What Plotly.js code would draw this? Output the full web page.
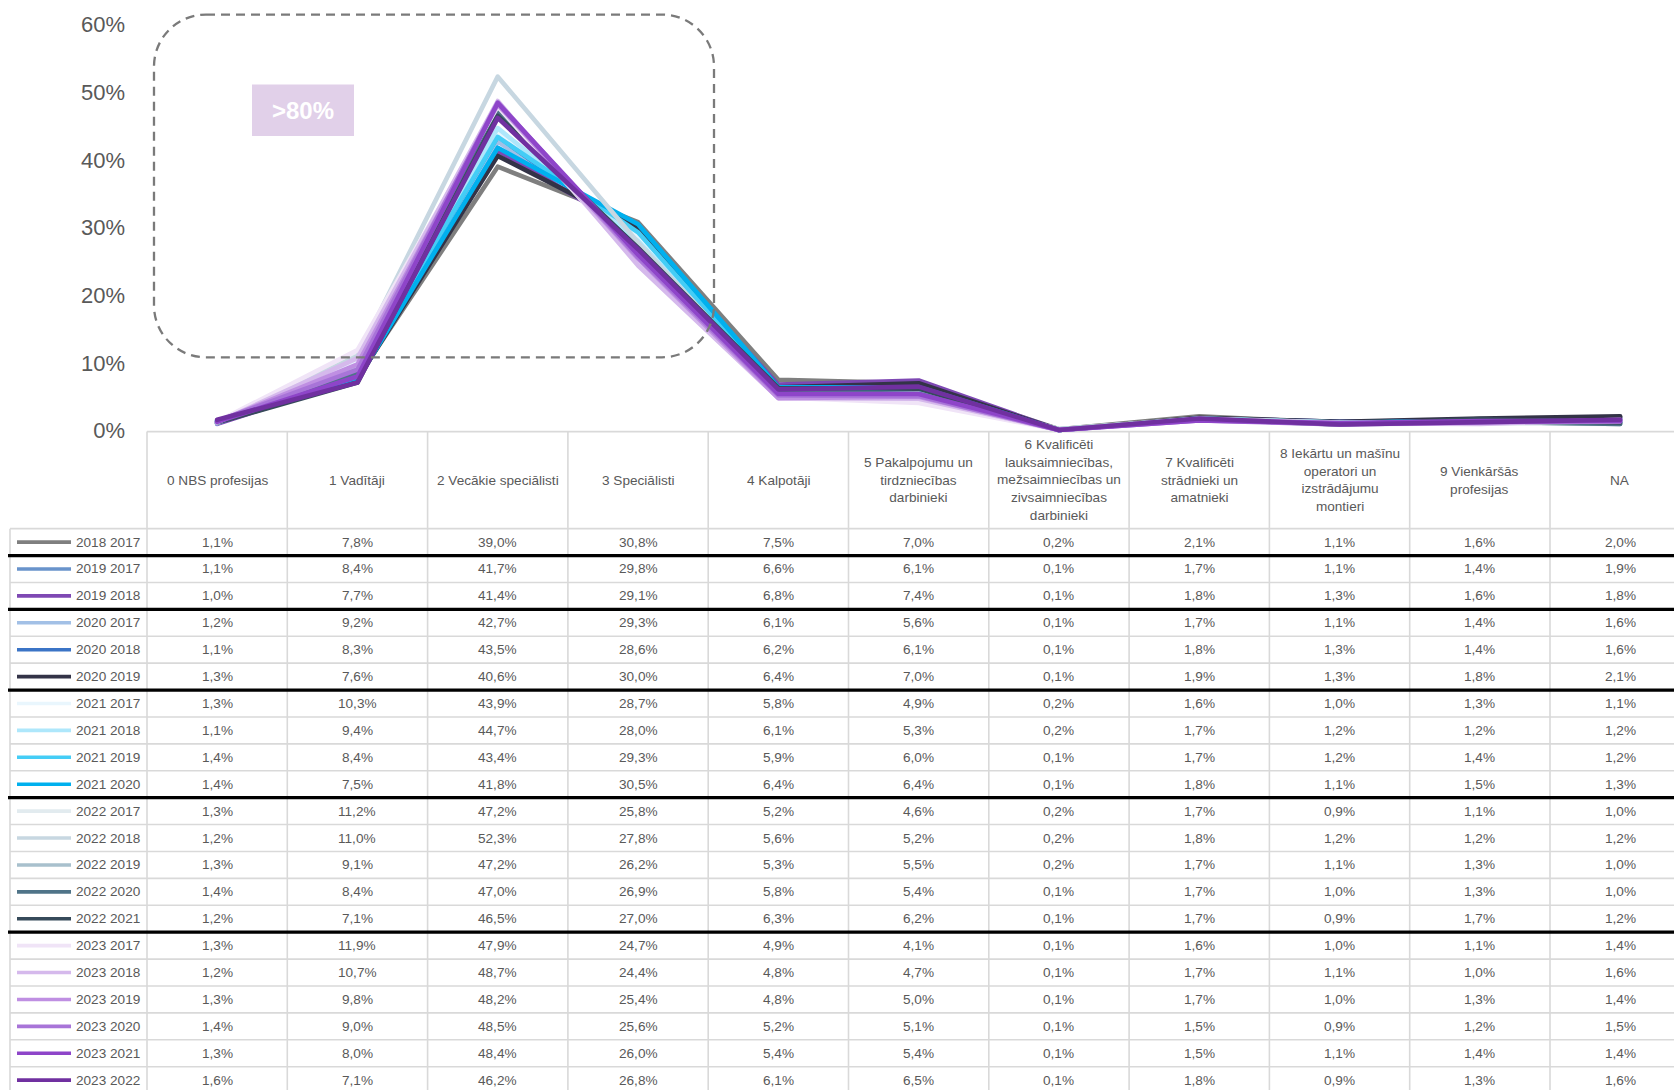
<!DOCTYPE html>
<html>
<head>
<meta charset="utf-8">
<script src="https://cdn.plot.ly/plotly-3.0.1.min.js"></script>
<style>
html,body{margin:0;padding:0;background:#ffffff;}
#chart{width:1674px;height:1090px;}
.scatterlayer .js-line{stroke-linejoin:round;stroke-linecap:round;}
</style>
</head>
<body>
<div id="chart"></div>
<script>
// ---------------- DATA ----------------
const categories = ["0 NBS profesijas", "1 Vadītāji", "2 Vecākie speciālisti", "3 Speciālisti", "4 Kalpotāji",
  "5 Pakalpojumu un tirdzniecības darbinieki",
  "6 Kvalificēti lauksaimniecības, mežsaimniecības un zivsaimniecības darbinieki",
  "7 Kvalificēti strādnieki un amatnieki",
  "8 Iekārtu un mašīnu operatori un izstrādājumu montieri",
  "9 Vienkāršās profesijas", "NA"];

const headerLabels = ["0 NBS profesijas", "1 Vadītāji", "2 Vecākie speciālisti", "3 Speciālisti", "4 Kalpotāji",
  "5 Pakalpojumu un<br>tirdzniecības<br>darbinieki",
  "6 Kvalificēti<br>lauksaimniecības,<br>mežsaimniecības un<br>zivsaimniecības<br>darbinieki",
  "7 Kvalificēti<br>strādnieki un<br>amatnieki",
  "8 Iekārtu un mašīnu<br>operatori un<br>izstrādājumu<br>montieri",
  "9 Vienkāršās<br>profesijas", "NA"];

const seriesNames = ["2018 2017", "2019 2017", "2019 2018", "2020 2017", "2020 2018", "2020 2019",
  "2021 2017", "2021 2018", "2021 2019", "2021 2020",
  "2022 2017", "2022 2018", "2022 2019", "2022 2020", "2022 2021",
  "2023 2017", "2023 2018", "2023 2019", "2023 2020", "2023 2021", "2023 2022"];

// values in percent
const v2018_2017 = [1.1, 7.8, 39.0, 30.8, 7.5, 7.0, 0.2, 2.1, 1.1, 1.6, 2.0];
const v2019_2017 = [1.1, 8.4, 41.7, 29.8, 6.6, 6.1, 0.1, 1.7, 1.1, 1.4, 1.9];
const v2019_2018 = [1.0, 7.7, 41.4, 29.1, 6.8, 7.4, 0.1, 1.8, 1.3, 1.6, 1.8];
const v2020_2017 = [1.2, 9.2, 42.7, 29.3, 6.1, 5.6, 0.1, 1.7, 1.1, 1.4, 1.6];
const v2020_2018 = [1.1, 8.3, 43.5, 28.6, 6.2, 6.1, 0.1, 1.8, 1.3, 1.4, 1.6];
const v2020_2019 = [1.3, 7.6, 40.6, 30.0, 6.4, 7.0, 0.1, 1.9, 1.3, 1.8, 2.1];
const v2021_2017 = [1.3, 10.3, 43.9, 28.7, 5.8, 4.9, 0.2, 1.6, 1.0, 1.3, 1.1];
const v2021_2018 = [1.1, 9.4, 44.7, 28.0, 6.1, 5.3, 0.2, 1.7, 1.2, 1.2, 1.2];
const v2021_2019 = [1.4, 8.4, 43.4, 29.3, 5.9, 6.0, 0.1, 1.7, 1.2, 1.4, 1.2];
const v2021_2020 = [1.4, 7.5, 41.8, 30.5, 6.4, 6.4, 0.1, 1.8, 1.1, 1.5, 1.3];
const v2022_2017 = [1.3, 11.2, 47.2, 25.8, 5.2, 4.6, 0.2, 1.7, 0.9, 1.1, 1.0];
const v2022_2018 = [1.2, 11.0, 52.3, 27.8, 5.6, 5.2, 0.2, 1.8, 1.2, 1.2, 1.2];
const v2022_2019 = [1.3, 9.1, 47.2, 26.2, 5.3, 5.5, 0.2, 1.7, 1.1, 1.3, 1.0];
const v2022_2020 = [1.4, 8.4, 47.0, 26.9, 5.8, 5.4, 0.1, 1.7, 1.0, 1.3, 1.0];
const v2022_2021 = [1.2, 7.1, 46.5, 27.0, 6.3, 6.2, 0.1, 1.7, 0.9, 1.7, 1.2];
const v2023_2017 = [1.3, 11.9, 47.9, 24.7, 4.9, 4.1, 0.1, 1.6, 1.0, 1.1, 1.4];
const v2023_2018 = [1.2, 10.7, 48.7, 24.4, 4.8, 4.7, 0.1, 1.7, 1.1, 1.0, 1.6];
const v2023_2019 = [1.3, 9.8, 48.2, 25.4, 4.8, 5.0, 0.1, 1.7, 1.0, 1.3, 1.4];
const v2023_2020 = [1.4, 9.0, 48.5, 25.6, 5.2, 5.1, 0.1, 1.5, 0.9, 1.2, 1.5];
const v2023_2021 = [1.3, 8.0, 48.4, 26.0, 5.4, 5.4, 0.1, 1.5, 1.1, 1.4, 1.4];
const v2023_2022 = [1.6, 7.1, 46.2, 26.8, 6.1, 6.5, 0.1, 1.8, 0.9, 1.3, 1.6];

const seriesValues = [v2018_2017, v2019_2017, v2019_2018, v2020_2017, v2020_2018, v2020_2019,
  v2021_2017, v2021_2018, v2021_2019, v2021_2020,
  v2022_2017, v2022_2018, v2022_2019, v2022_2020, v2022_2021,
  v2023_2017, v2023_2018, v2023_2019, v2023_2020, v2023_2021, v2023_2022];

const seriesColors = ["#7f7f7f", "#6993cb", "#7e48b3", "#a2c0e6", "#3b74c6", "#333347",
  "#e9f6fd", "#aee7fb", "#44cdf6", "#00b0ee",
  "#e2ebef", "#c7d7e1", "#a8c0cd", "#4f7488", "#364a5a",
  "#f0e4f7", "#d5b9ec", "#bf8fe2", "#a874d8", "#8e45c9", "#7030a0"];

const yTickVals = [0, 0.1, 0.2, 0.3, 0.4, 0.5, 0.6];
const calloutText = ">80%";

// ---------------- GEOMETRY ----------------
const W = 1674, H = 1090;
const colLeft = 147, colW = 140.3;
const yZeroPx = 431, pxPerUnit = 676.7;
const yMin = -0.005, yMax = 0.62;
const plotTop = yZeroPx - yMax * pxPerUnit;
const plotBottom = yZeroPx - yMin * pxPerUnit;
const plotH = plotBottom - plotTop;
const plotW = W - colLeft;
const xMin = -0.5, xMax = -0.5 + plotW / colW;
const px = (x) => (x - colLeft) / plotW;
const py = (y) => (plotBottom - y) / plotH;

const headerTop = 432, headerBottom = 529, rowH = 26.9;
const legendLeft = 10;
const gridColor = "#d9d9d9", textColor = "#595959";
const fontFam = "Liberation Sans, Arial, sans-serif";

const fmt = (v) => v.toFixed(1).replace(".", ",") + "%";

// ---------------- TRACES ----------------
const traces = seriesNames.map((name, s) => ({
  type: "scatter", mode: "lines", name: name,
  x: categories, y: seriesValues[s].map(v => v / 100),
  line: { color: seriesColors[s], width: 4.6 },
  showlegend: false, hoverinfo: "name+y"
}));

// ---------------- SHAPES & ANNOTATIONS ----------------
const shapes = [];
const annotations = [];
const nRows = seriesNames.length;
const tableBottom = headerBottom + nRows * rowH;

// header top border
shapes.push({ type: "line", xref: "paper", yref: "paper", x0: px(colLeft), x1: px(W + 10),
  y0: py(headerTop), y1: py(headerTop), line: { color: gridColor, width: 1.6 }, layer: "below" });
// vertical column borders
for (let i = 0; i <= categories.length; i++) {
  const xx = colLeft + i * colW;
  shapes.push({ type: "line", xref: "paper", yref: "paper", x0: px(xx), x1: px(xx),
    y0: py(headerTop), y1: py(tableBottom), line: { color: gridColor, width: 1.6 }, layer: "below" });
}
// legend column left border
shapes.push({ type: "line", xref: "paper", yref: "paper", x0: px(legendLeft), x1: px(legendLeft),
  y0: py(headerBottom), y1: py(tableBottom), line: { color: gridColor, width: 1.6 }, layer: "below" });
// horizontal row borders
for (let k = 0; k <= nRows; k++) {
  const yy = headerBottom + k * rowH;
  shapes.push({ type: "line", xref: "paper", yref: "paper", x0: px(legendLeft), x1: px(W + 10),
    y0: py(yy), y1: py(yy), line: { color: gridColor, width: 1.6 }, layer: "below" });
}
// thick separators where the first year changes
for (let k = 1; k < nRows; k++) {
  if (seriesNames[k].slice(0, 4) !== seriesNames[k - 1].slice(0, 4)) {
    const yy = headerBottom + k * rowH;
    shapes.push({ type: "line", xref: "paper", yref: "paper", x0: px(legendLeft - 2), x1: px(W + 10),
      y0: py(yy), y1: py(yy), line: { color: "#000000", width: 3.2 } });
  }
}
// header labels
headerLabels.forEach((lab, i) => {
  annotations.push({ xref: "x", yref: "paper", x: i, y: py((headerTop + headerBottom) / 2),
    text: lab, showarrow: false, xanchor: "center", yanchor: "middle", align: "center",
    font: { family: fontFam, size: 13.6, color: textColor } });
});
// rows: legend keys, labels, values
seriesNames.forEach((name, k) => {
  const yc = headerBottom + (k + 0.5) * rowH;
  shapes.push({ type: "line", xref: "paper", yref: "paper", x0: px(17), x1: px(71),
    y0: py(yc), y1: py(yc), line: { color: seriesColors[k], width: 3.6 } });
  annotations.push({ xref: "paper", yref: "paper", x: px(74), y: py(yc), text: name,
    showarrow: false, xanchor: "left", yanchor: "middle",
    font: { family: fontFam, size: 13.6, color: textColor } });
  seriesValues[k].forEach((v, i) => {
    annotations.push({ xref: "x", yref: "paper", x: i, y: py(yc), text: fmt(v),
      showarrow: false, xanchor: "center", yanchor: "middle",
      font: { family: fontFam, size: 13.6, color: textColor } });
  });
});

// dashed rounded callout box
(function () {
  const L = 154, T = 15, R = 714, B = 357.7, r = 52, c = 0.5523 * r;
  const P = (x, y) => px(x).toFixed(5) + "," + py(y).toFixed(5);
  const path = "M" + P(L + r, T) + " L" + P(R - r, T) +
    " C" + P(R - r + c, T) + " " + P(R, T + r - c) + " " + P(R, T + r) +
    " L" + P(R, B - r) +
    " C" + P(R, B - r + c) + " " + P(R - r + c, B) + " " + P(R - r, B) +
    " L" + P(L + r, B) +
    " C" + P(L + r - c, B) + " " + P(L, B - r + c) + " " + P(L, B - r) +
    " L" + P(L, T + r) +
    " C" + P(L, T + r - c) + " " + P(L + r - c, T) + " " + P(L + r, T) + " Z";
  shapes.push({ type: "path", xref: "paper", yref: "paper", path: path,
    line: { color: "#7a7a7a", width: 2.3, dash: "9px,6px" } });
})();
// callout label
shapes.push({ type: "rect", xref: "paper", yref: "paper", x0: px(252), x1: px(354), y0: py(136.5), y1: py(85),
  fillcolor: "#e1d0e9", line: { width: 0 }, layer: "below" });
annotations.push({ xref: "paper", yref: "paper", x: px(303), y: py(111), text: "<b>" + calloutText.replace(">", "&gt;") + "</b>",
  showarrow: false, xanchor: "center", yanchor: "middle",
  font: { family: fontFam, size: 24, color: "#ffffff" } });

const layout = {
  width: W, height: H,
  margin: { l: colLeft, r: 0, t: plotTop, b: H - plotBottom, pad: 0 },
  paper_bgcolor: "#ffffff", plot_bgcolor: "rgba(0,0,0,0)",
  showlegend: false,
  xaxis: { type: "category", range: [xMin, xMax], showgrid: false, zeroline: false, showline: false,
    showticklabels: false, ticks: "", fixedrange: true },
  yaxis: { range: [yMin, yMax], tickvals: yTickVals, tickformat: ".0%", showgrid: false, zeroline: false,
    showline: false, ticks: "", ticklabelstandoff: 21,
    tickfont: { family: fontFam, size: 22, color: textColor }, fixedrange: true },
  shapes: shapes,
  annotations: annotations
};

Plotly.newPlot("chart", traces, layout, { displayModeBar: false, staticPlot: true });
</script>
</body>
</html>
